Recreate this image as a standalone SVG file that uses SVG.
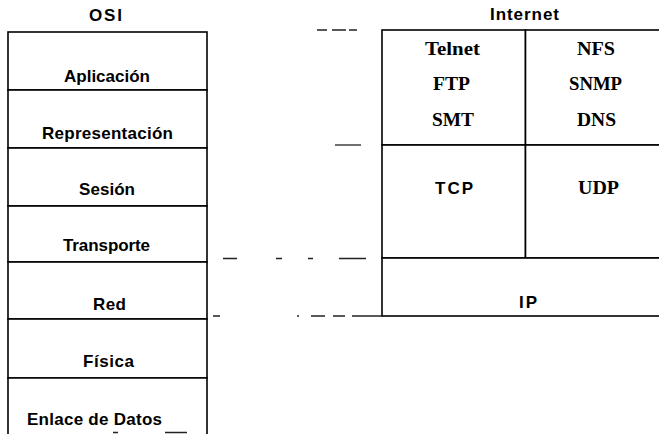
<svg xmlns="http://www.w3.org/2000/svg" width="659" height="434" viewBox="0 0 659 434">
  <style>
    .cell { fill: #ffffff; stroke: #000000; stroke-width: 1.6; }
    .sans { font-family: "Liberation Sans", Arial, sans-serif; font-weight: bold; font-size: 17px; fill: #000000; }
    .serif { font-family: "Liberation Serif", "Times New Roman", serif; font-weight: bold; font-size: 18px; fill: #000000; }
    .title { font-family: "Liberation Sans", Arial, sans-serif; font-weight: bold; font-size: 17px; fill: #000000; }
    .guide { stroke: #222222; stroke-width: 1.3; fill: none; }
  </style>

  <rect x="0" y="0" width="659" height="434" fill="#ffffff"/>

  <!-- column headings -->
  <text class="title" x="89" y="21" textLength="33" lengthAdjust="spacing">OSI</text>
  <text class="title" x="490" y="20" textLength="69" lengthAdjust="spacing">Internet</text>

  <!-- OSI reference model stack -->
  <g id="osi-aplicacion">
    <rect class="cell" x="8" y="32" width="199" height="58"/>
    <text class="sans" x="64" y="82" textLength="86" lengthAdjust="spacing">Aplicación</text>
  </g>
  <g id="osi-representacion">
    <rect class="cell" x="8" y="90" width="199" height="58"/>
    <text class="sans" x="42" y="139" textLength="131" lengthAdjust="spacing">Representación</text>
  </g>
  <g id="osi-sesion">
    <rect class="cell" x="8" y="148" width="199" height="58"/>
    <text class="sans" x="79" y="195" textLength="56" lengthAdjust="spacing">Sesión</text>
  </g>
  <g id="osi-transporte">
    <rect class="cell" x="8" y="206" width="199" height="56"/>
    <text class="sans" x="63" y="251" textLength="87" lengthAdjust="spacing">Transporte</text>
  </g>
  <g id="osi-red">
    <rect class="cell" x="8" y="262" width="199" height="57"/>
    <text class="sans" x="93" y="310" textLength="33" lengthAdjust="spacing">Red</text>
  </g>
  <g id="osi-fisica">
    <rect class="cell" x="8" y="319" width="199" height="59"/>
    <text class="sans" x="83" y="367" textLength="51" lengthAdjust="spacing">Física</text>
  </g>
  <g id="osi-enlace">
    <path class="cell" d="M8,440 V378 H207 V440"/>
    <path class="guide" d="M113,432.5 H118 M165,432.5 H187"/>
    <text class="sans" x="27" y="425" textLength="135" lengthAdjust="spacing">Enlace de Datos</text>
  </g>

  <!-- Internet (TCP/IP) stack -->
  <g id="inet-app-left">
    <rect class="cell" x="382" y="30" width="143.5" height="115"/>
    <text class="serif" x="425" y="55" textLength="55" lengthAdjust="spacingAndGlyphs">Telnet</text>
    <text class="serif" x="433" y="90" textLength="37" lengthAdjust="spacingAndGlyphs">FTP</text>
    <text class="serif" x="432" y="126" textLength="42" lengthAdjust="spacingAndGlyphs">SMT</text>
  </g>
  <g id="inet-app-right">
    <rect class="cell" x="525.5" y="30" width="140" height="115"/>
    <text class="serif" x="577" y="55" textLength="38" lengthAdjust="spacingAndGlyphs">NFS</text>
    <text class="serif" x="569" y="90" textLength="53" lengthAdjust="spacingAndGlyphs">SNMP</text>
    <text class="serif" x="577" y="126" textLength="39" lengthAdjust="spacingAndGlyphs">DNS</text>
  </g>
  <g id="inet-tcp">
    <rect class="cell" x="382" y="145" width="143.5" height="113"/>
    <text class="sans" x="435" y="194" textLength="38" lengthAdjust="spacing">TCP</text>
  </g>
  <g id="inet-udp">
    <rect class="cell" x="525.5" y="145" width="140" height="113"/>
    <text class="serif" x="578" y="194" textLength="41" lengthAdjust="spacingAndGlyphs">UDP</text>
  </g>
  <g id="inet-ip">
    <rect class="cell" x="382" y="258" width="283.5" height="58"/>
    <text class="sans" x="519" y="308" textLength="18" lengthAdjust="spacing">IP</text>
  </g>

  <!-- broken guide lines between the two stacks -->
  <g id="connectors">
    <path class="guide" d="M317,30 H327 M332,30 H346 M349,30 H357"/>
    <path class="guide" d="M335,145 H361"/>
    <path class="guide" d="M223,258.5 H237 M276,258.5 H282 M308,258.5 H313 M339,258.5 H366"/>
    <path class="guide" d="M213,316 H220 M297,316 H299 M311,316 H325 M333,316 H345 M352,316 H382"/>
  </g>
</svg>
